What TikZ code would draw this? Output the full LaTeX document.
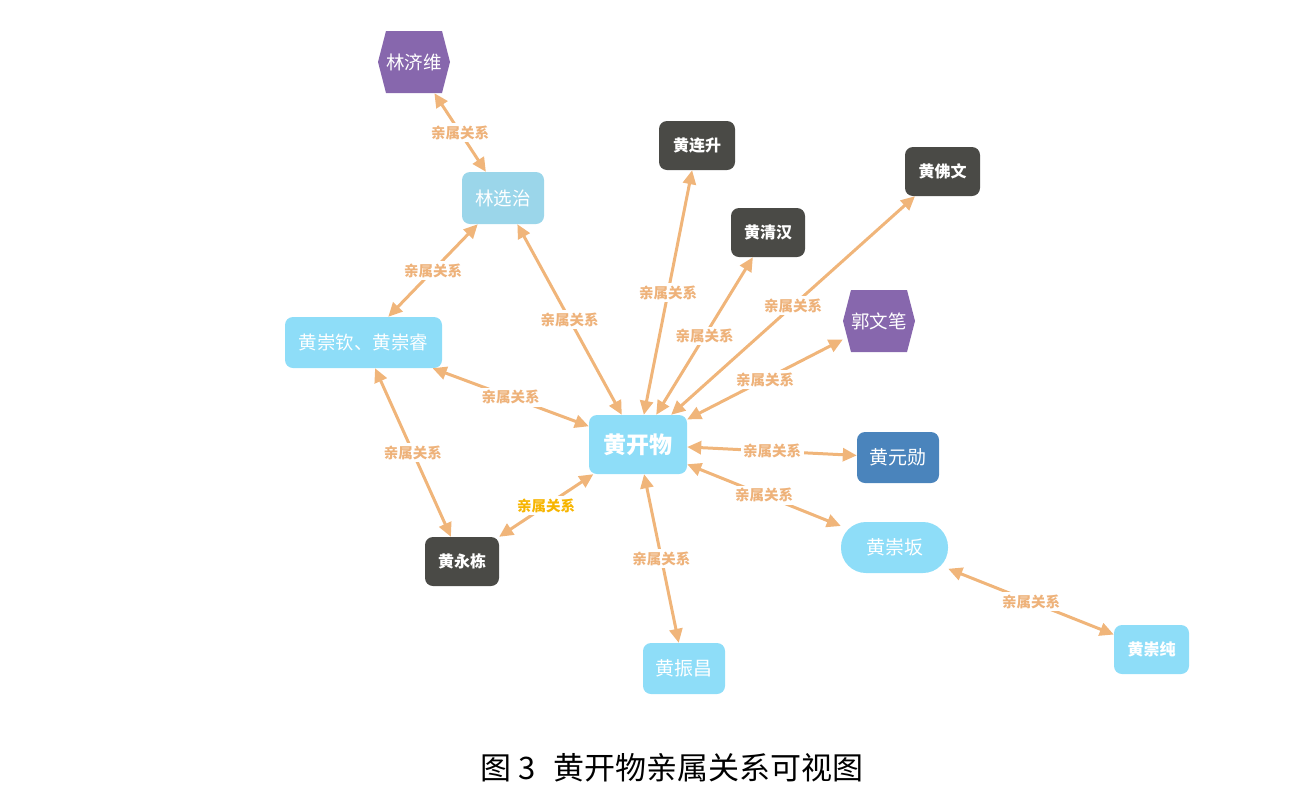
\documentclass[tikz,border=0pt]{standalone}
\usepackage{fontspec}
\newfontfamily\cjk{Noto Sans CJK SC}
\usetikzlibrary{arrows.meta,calc}
\definecolor{edgeor}{HTML}{F0B57A}
\definecolor{lblor}{HTML}{EEB27A}
\definecolor{lblye}{HTML}{F7B500}
\definecolor{lightb}{HTML}{8EDDF8}
\definecolor{lightb2}{HTML}{9BD6EA}
\definecolor{darkg}{HTML}{4A4A46}
\definecolor{purp}{HTML}{8767AD}
\definecolor{steelb}{HTML}{4A84BC}
\tikzset{
  base/.style={inner sep=0pt, text=white, font=\cjk\fontsize{18.5}{18.5}\selectfont},
  lbnode/.style={base, fill=lightb, rounded corners=8pt},
  dknode/.style={base, fill=darkg, rounded corners=8pt, font=\cjk\bfseries\fontsize{16}{16}\selectfont},
  sbnode/.style={base, fill=steelb, rounded corners=8pt},
  hexnode/.style={base, path picture={
      \fill[purp] (path picture bounding box.west)
        -- ($(path picture bounding box.north west)+(#1,0)$)
        -- ($(path picture bounding box.north east)+(-#1,0)$)
        -- (path picture bounding box.east)
        -- ($(path picture bounding box.south east)+(-#1,0)$)
        -- ($(path picture bounding box.south west)+(#1,0)$) -- cycle;}},
  rel/.style={draw=edgeor, line width=3pt,
     {Triangle[length=14pt,width=13pt]}-{Triangle[length=14pt,width=13pt]}},
  lbl/.style={fill=white, inner sep=2.5pt, text=lblor, font=\cjk\bfseries\fontsize{14.5}{14.5}\selectfont},
}
\begin{document}
\begin{tikzpicture}[x=1pt,y=-1pt]
\useasboundingbox (0,0) rectangle (1314,796);
\node[hexnode=8, minimum width=72, minimum height=62] (lji) at (414,62) {林济维};
\node[lbnode, fill=lightb2, minimum width=82, minimum height=52] (lxz) at (503,198) {林选治};
\node[dknode, minimum width=76, minimum height=49] (hls) at (697,145.5) {黄连升};
\node[dknode, minimum width=75, minimum height=49] (hfw) at (942.5,171.5) {黄佛文};
\node[dknode, minimum width=74, minimum height=49] (hqh) at (768,232.5) {黄清汉};
\node[hexnode=8, minimum width=72, minimum height=62] (gwb) at (879,321) {郭文笔};
\node[lbnode, minimum width=157, minimum height=51, font=\cjk\fontsize{18.5}{18.5}\selectfont] (hcq) at (363.5,342.5) {黄崇钦、黄崇睿};
\node[lbnode, minimum width=98, minimum height=59, font=\cjk\bfseries\fontsize{23}{23}\selectfont] (hkw) at (638,444.5) {黄开物};
\node[sbnode, minimum width=82, minimum height=51, font=\cjk\fontsize{19}{19}\selectfont] (hyx) at (898,457.5) {黄元勋};
\node[lbnode, rounded corners=25pt, minimum width=107, minimum height=51, font=\cjk\fontsize{19}{19}\selectfont] (hcb) at (894.5,547.5) {黄崇坂};
\node[dknode, minimum width=74, minimum height=49] (hyd) at (462,561.5) {黄永栋};
\node[lbnode, minimum width=82, minimum height=51, font=\cjk\fontsize{19}{19}\selectfont] (hzc) at (684,668.5) {黄振昌};
\node[lbnode, minimum width=75, minimum height=49, font=\cjk\bfseries\fontsize{16}{16}\selectfont] (hcc) at (1151.5,649.5) {黄崇纯};

\draw[rel] (lji) -- node[lbl] {亲属关系} (lxz);
\draw[rel] (lxz) -- node[lbl] {亲属关系} (hcq);
\draw[rel] (lxz) -- node[lbl] {亲属关系} (hkw);
\draw[rel] (hls) -- node[lbl] {亲属关系} (hkw);
\draw[rel] (hqh) -- node[lbl] {亲属关系} (hkw);
\draw[rel] (hfw) -- node[lbl] {亲属关系} (hkw);
\draw[rel] (gwb) -- node[lbl] {亲属关系} (hkw);
\draw[rel] (hcq) -- node[lbl] {亲属关系} (hkw);
\draw[rel] (hkw) -- node[lbl] {亲属关系} (hyx);
\draw[rel] (hkw) -- node[lbl] {亲属关系} (hcb);
\draw[rel] (hcq) -- node[lbl] {亲属关系} (hyd);
\draw[rel] (hyd) -- node[lbl, text=lblye] {亲属关系} (hkw);
\draw[rel] (hkw) -- node[lbl] {亲属关系} (hzc);
\draw[rel] (hcb) -- node[lbl] {亲属关系} (hcc);

\node[inner sep=0pt, font=\cjk\fontsize{31}{31}\selectfont] (cap) at (672,768) {图 3\hspace{0.6em}黄开物亲属关系可视图};
\end{tikzpicture}
\end{document}
